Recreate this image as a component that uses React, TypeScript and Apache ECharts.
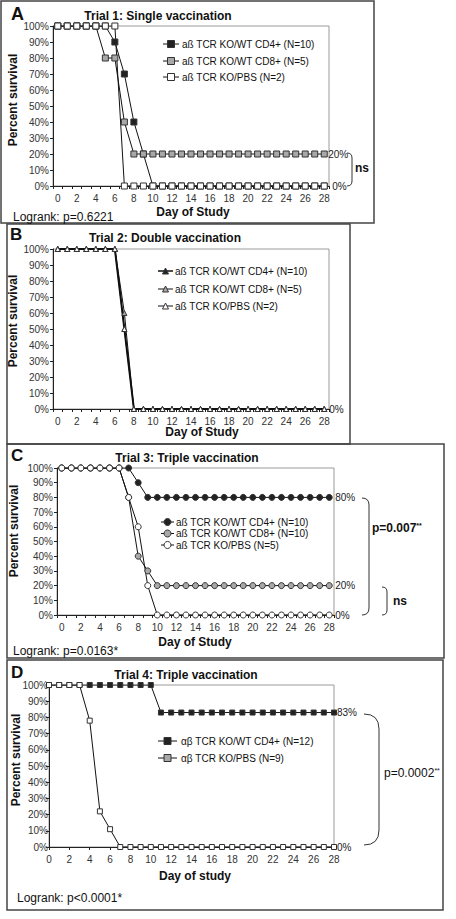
import React, { useEffect, useRef } from "react";
import * as echarts from "echarts";

const FF = '"Liberation Sans", Arial, Helvetica, sans-serif';

const DAYS = [0, 1, 2, 3, 4, 5, 6, 7, 8, 9, 10, 11, 12, 13, 14, 15, 16, 17, 18, 19, 20, 21, 22, 23, 24, 25, 26, 27, 28];

// Panel A – Trial 1: Single vaccination
const A_NAMES = ["aß TCR KO/WT CD4+ (N=10)", "aß TCR KO/WT CD8+ (N=5)", "aß TCR KO/PBS (N=2)"];
const A_CD4 = [100, 100, 100, 100, 100, 100, 90, 70, 40, 20, 0, 0, 0, 0, 0, 0, 0, 0, 0, 0, 0, 0, 0, 0, 0, 0, 0, 0, 0];
const A_CD8 = [100, 100, 100, 100, 100, 80, 80, 40, 20, 20, 20, 20, 20, 20, 20, 20, 20, 20, 20, 20, 20, 20, 20, 20, 20, 20, 20, 20, 20];
const A_PBS = [100, 100, 100, 100, 100, 100, 100, 0, 0, 0, 0, 0, 0, 0, 0, 0, 0, 0, 0, 0, 0, 0, 0, 0, 0, 0, 0, 0, 0];

// Panel B – Trial 2: Double vaccination
const B_NAMES = ["aß TCR KO/WT CD4+ (N=10)", "aß TCR KO/WT CD8+ (N=5)", "aß TCR KO/PBS (N=2)"];
const B_CD4 = [100, 100, 100, 100, 100, 100, 100, 50, 0, 0, 0, 0, 0, 0, 0, 0, 0, 0, 0, 0, 0, 0, 0, 0, 0, 0, 0, 0, 0];
const B_CD8 = [100, 100, 100, 100, 100, 100, 100, 60, 0, 0, 0, 0, 0, 0, 0, 0, 0, 0, 0, 0, 0, 0, 0, 0, 0, 0, 0, 0, 0];
const B_PBS = [100, 100, 100, 100, 100, 100, 100, 50, 0, 0, 0, 0, 0, 0, 0, 0, 0, 0, 0, 0, 0, 0, 0, 0, 0, 0, 0, 0, 0];

// Panel C – Trial 3: Triple vaccination
const C_NAMES = ["aß TCR KO/WT CD4+ (N=10)", "aß TCR KO/WT CD8+ (N=10)", "aß TCR KO/PBS (N=5)"];
const C_CD4 = [100, 100, 100, 100, 100, 100, 100, 100, 90, 80, 80, 80, 80, 80, 80, 80, 80, 80, 80, 80, 80, 80, 80, 80, 80, 80, 80, 80, 80];
const C_CD8 = [100, 100, 100, 100, 100, 100, 100, 80, 40, 30, 20, 20, 20, 20, 20, 20, 20, 20, 20, 20, 20, 20, 20, 20, 20, 20, 20, 20, 20];
const C_PBS = [100, 100, 100, 100, 100, 100, 100, 80, 60, 20, 0, 0, 0, 0, 0, 0, 0, 0, 0, 0, 0, 0, 0, 0, 0, 0, 0, 0, 0];

// Panel D – Trial 4: Triple vaccination
const D_NAMES = ["αβ TCR KO/WT CD4+ (N=12)", "αβ TCR KO/PBS (N=9)"];
const D_CD4 = [100, 100, 100, 100, 100, 100, 100, 100, 100, 100, 100, 83, 83, 83, 83, 83, 83, 83, 83, 83, 83, 83, 83, 83, 83, 83, 83, 83, 83];
const D_PBS = [100, 100, 100, 100, 78, 22, 11, 0, 0, 0, 0, 0, 0, 0, 0, 0, 0, 0, 0, 0, 0, 0, 0, 0, 0, 0, 0, 0, 0];

const BLACK = "#222";
const GREY = "#a8a8a8";
const WHITE = "#ffffff";
const EDGE = "#333";
const LINE = "#111";

echarts.graphic.registerShape(
  "bracketA",
  echarts.graphic.extendPath("M347,153 Q352,153 352,158 L352,181 Q352,186 347,186", {})
);
echarts.graphic.registerShape(
  "bracketC1",
  echarts.graphic.extendPath("M362,498 Q369,498 369,505 L369,608 Q369,615 362,615", {})
);
echarts.graphic.registerShape(
  "bracketC2",
  echarts.graphic.extendPath("M382,587 Q387,587 387,592 L387,610 Q387,615 382,615", {})
);
echarts.graphic.registerShape(
  "bracketD",
  echarts.graphic.extendPath("M364,714 Q379,714 379,729 L379,830 Q379,845 364,845", {})
);

function font(size: number, bold = false) {
  return `${bold ? "bold " : ""}${size}px ${FF}`;
}

function txt(x: number, y: number, text: string, size: number, bold = false, align = "left", rotation = 0) {
  return {
    type: "text",
    x,
    y,
    rotation,
    silent: true,
    style: {
      text,
      font: font(size, bold),
      fill: "#111",
      align,
      verticalAlign: "middle",
      textAlign: align,
      textVerticalAlign: "middle",
    },
  };
}

function legendItem(
  x0: number,
  x1: number,
  y: number,
  tx: number,
  name: string,
  marker: string,
  fill: string,
  size: number,
  lineW = 1
) {
  const cx = (x0 + x1) / 2;
  const els: any[] = [
    { type: "line", silent: true, shape: { x1: x0, y1: y, x2: x1, y2: y }, style: { stroke: LINE, lineWidth: lineW } },
  ];
  const st = { fill, stroke: EDGE, lineWidth: 1 };
  if (marker === "rect") {
    els.push({ type: "rect", silent: true, shape: { x: cx - size / 2, y: y - size / 2, width: size, height: size }, style: st });
  } else if (marker === "circle") {
    els.push({ type: "circle", silent: true, shape: { cx, cy: y, r: size / 2 }, style: st });
  } else {
    els.push({
      type: "polygon",
      silent: true,
      shape: { points: [[cx, y - size / 2], [cx + size / 2, y + size / 2], [cx - size / 2, y + size / 2]] },
      style: st,
    });
  }
  els.push(txt(tx, y, name, 10));
  return els;
}

function xCat(gi: number) {
  return {
    type: "category",
    gridIndex: gi,
    data: DAYS.map(String),
    boundaryGap: true,
    axisLine: { show: true, lineStyle: { color: BLACK, width: 1 } },
    axisTick: { show: true, interval: 0, length: 3, lineStyle: { color: BLACK } },
    axisLabel: { interval: 1, fontSize: 10, fontFamily: FF, color: "#333", margin: 7 },
    splitLine: { show: false },
  };
}

function yAx(gi: number, margin = 4) {
  return {
    type: "value",
    gridIndex: gi,
    min: 0,
    max: 100,
    interval: 10,
    axisLine: { show: true, lineStyle: { color: BLACK, width: 1 } },
    axisTick: { show: true, length: 3, lineStyle: { color: BLACK } },
    axisLabel: { formatter: "{value}%", fontSize: 10, fontFamily: FF, color: "#333", margin },
    splitLine: { show: false },
  };
}

function ser(
  gi: number,
  name: string,
  data: any[],
  symbol: string,
  fill: string,
  size: number,
  endLabel: boolean,
  lineW = 1,
  labelDist = 4
) {
  return {
    type: "line",
    name,
    xAxisIndex: gi,
    yAxisIndex: gi,
    data,
    symbol,
    symbolSize: size,
    showAllSymbol: true,
    silent: true,
    lineStyle: { color: LINE, width: lineW },
    itemStyle: { color: fill, borderColor: EDGE, borderWidth: 1 },
    emphasis: { disabled: true },
    endLabel: {
      show: endLabel,
      distance: labelDist,
      fontSize: 10,
      fontFamily: FF,
      color: "#222",
      formatter: (p: any) => `${Array.isArray(p.value) ? p.value[1] : p.value}%`,
    },
  };
}

export default function App() {
  const ref = useRef<HTMLDivElement>(null);

  useEffect(() => {
    if (!ref.current) return;
    const chart = echarts.init(ref.current, null, { renderer: "svg" });
    const gridBase = { show: true, borderColor: "#9a9a9a", borderWidth: 1, backgroundColor: "#fff", containLabel: false, outerBoundsMode: "none" };

    const dPairs = (arr: number[]) => DAYS.map((d, i) => [d, arr[i]]);

    const graphic: any[] = [
      // panel borders
      { type: "rect", silent: true, shape: { x: 1, y: 1, width: 373, height: 222 }, style: { fill: "none", stroke: "#444", lineWidth: 1.5 } },
      { type: "rect", silent: true, shape: { x: 7, y: 224, width: 343, height: 220 }, style: { fill: "none", stroke: "#444", lineWidth: 1.5 } },
      { type: "rect", silent: true, shape: { x: 7, y: 444, width: 437, height: 214 }, style: { fill: "none", stroke: "#444", lineWidth: 1.5 } },
      { type: "rect", silent: true, shape: { x: 7, y: 660, width: 436, height: 250 }, style: { fill: "none", stroke: "#444", lineWidth: 1.5 } },

      // Panel A
      txt(11, 14, "A", 18, true),
      txt(158, 16, "Trial 1: Single vaccination", 12, true, "center"),
      txt(13, 100, "Percent survival", 12, true, "center", Math.PI / 2),
      txt(193, 212, "Day of Study", 12, true, "center"),
      txt(13, 217, "Logrank: p=0.6221", 12),
      { type: "bracketA", silent: true, style: { fill: "none", stroke: "#333", lineWidth: 1 } },
      txt(355, 168, "ns", 12, true),
      ...legendItem(163, 179, 44, 182, A_NAMES[0], "rect", BLACK, 7),
      ...legendItem(163, 179, 61, 182, A_NAMES[1], "rect", GREY, 7),
      ...legendItem(163, 179, 77, 182, A_NAMES[2], "rect", WHITE, 7),

      // Panel B
      txt(10, 234, "B", 17, true),
      txt(165, 238, "Trial 2: Double vaccination", 12, true, "center"),
      txt(13, 321, "Percent survival", 12, true, "center", Math.PI / 2),
      txt(202, 432, "Day of Study", 12, true, "center"),
      ...legendItem(158, 173, 271, 175, B_NAMES[0], "triangle", BLACK, 6, 1.5),
      ...legendItem(158, 173, 289, 175, B_NAMES[1], "triangle", GREY, 6),
      ...legendItem(158, 173, 306, 175, B_NAMES[2], "triangle", WHITE, 6),

      // Panel C
      txt(11, 455, "C", 17, true),
      txt(187, 458, "Trial 3: Triple vaccination", 12, true, "center"),
      txt(14, 531, "Percent survival", 12, true, "center", Math.PI / 2),
      txt(195, 642, "Day of Study", 12, true, "center"),
      txt(13, 651, "Logrank: p=0.0163*", 12),
      { type: "bracketC1", silent: true, style: { fill: "none", stroke: "#333", lineWidth: 1 } },
      { type: "bracketC2", silent: true, style: { fill: "none", stroke: "#333", lineWidth: 1 } },
      {
        type: "text",
        x: 372,
        y: 528,
        silent: true,
        style: {
          text: "{a|p=0.007}{b|**}",
          verticalAlign: "middle",
          textVerticalAlign: "middle",
          rich: {
            a: { font: font(12, true), fill: "#111" },
            b: { font: font(7, true), fill: "#111", verticalAlign: "top" },
          },
        },
      },
      txt(393, 601, "ns", 12, true),
      ...legendItem(161, 174, 522, 176, C_NAMES[0], "circle", BLACK, 7),
      ...legendItem(161, 174, 533.5, 176, C_NAMES[1], "circle", GREY, 7),
      ...legendItem(161, 174, 545, 176, C_NAMES[2], "circle", WHITE, 7),

      // Panel D
      txt(11, 672, "D", 17, true),
      txt(186, 675, "Trial 4: Triple vaccination", 12, true, "center"),
      txt(16, 760, "Percent survival", 12, true, "center", Math.PI / 2),
      txt(195, 876, "Day of study", 12, true, "center"),
      txt(17, 898, "Logrank: p<0.0001*", 12),
      { type: "bracketD", silent: true, style: { fill: "none", stroke: "#333", lineWidth: 1 } },
      {
        type: "text",
        x: 384,
        y: 773,
        silent: true,
        style: {
          text: "{a|p=0.0002}{b|**}",
          verticalAlign: "middle",
          textVerticalAlign: "middle",
          rich: {
            a: { font: font(12), fill: "#111" },
            b: { font: font(7), fill: "#111", verticalAlign: "top" },
          },
        },
      },
      ...legendItem(158, 177, 741, 181, D_NAMES[0], "rect", BLACK, 7),
      ...legendItem(158, 177, 758, 181, D_NAMES[1], "rect", GREY, 7),
    ];

    chart.setOption({
      animation: false,
      backgroundColor: "#fff",
      grid: [
        { ...gridBase, left: 53, top: 26, width: 276, height: 160 },
        { ...gridBase, left: 53, top: 249, width: 276, height: 160 },
        { ...gridBase, left: 57, top: 468, width: 277, height: 147 },
        { ...gridBase, left: 49, top: 685, width: 285, height: 162 },
      ],
      xAxis: [
        xCat(0),
        xCat(1),
        xCat(2),
        {
          type: "value",
          gridIndex: 3,
          min: 0,
          max: 28,
          interval: 2,
          axisLine: { show: true, lineStyle: { color: BLACK, width: 1 } },
          axisTick: { show: true, length: 3, lineStyle: { color: BLACK } },
          axisLabel: { fontSize: 10, fontFamily: FF, color: "#333", margin: 7 },
          splitLine: { show: false },
        },
      ],
      yAxis: [yAx(0), yAx(1), yAx(2), yAx(3, 1)],
      series: [
        ser(0, A_NAMES[0], A_CD4, "rect", BLACK, 6, false),
        ser(0, A_NAMES[1], A_CD8, "rect", GREY, 6, true, 1, 4),
        ser(0, A_NAMES[2], A_PBS, "rect", WHITE, 6, true, 1, 8),

        ser(1, B_NAMES[0], B_CD4, "triangle", BLACK, 5, false, 2),
        ser(1, B_NAMES[1], B_CD8, "triangle", GREY, 5, false),
        ser(1, B_NAMES[2], B_PBS, "triangle", WHITE, 5, true, 1, 5),

        ser(2, C_NAMES[0], C_CD4, "circle", BLACK, 6, true, 1, 6),
        ser(2, C_NAMES[1], C_CD8, "circle", GREY, 6, true, 1, 6),
        ser(2, C_NAMES[2], C_PBS, "circle", WHITE, 6, true, 1, 6),

        ser(3, D_NAMES[0], dPairs(D_CD4), "rect", BLACK, 5, true, 1, 3),
        ser(3, D_NAMES[1], dPairs(D_PBS), "rect", WHITE, 5, true, 1, 3),
      ],
      graphic,
    });

    return () => chart.dispose();
  }, []);

  return (
    <div
      ref={ref}
      style={{ position: "absolute", left: 0, top: 0, width: 456, height: 919, background: "#fff" }}
    />
  );
}
